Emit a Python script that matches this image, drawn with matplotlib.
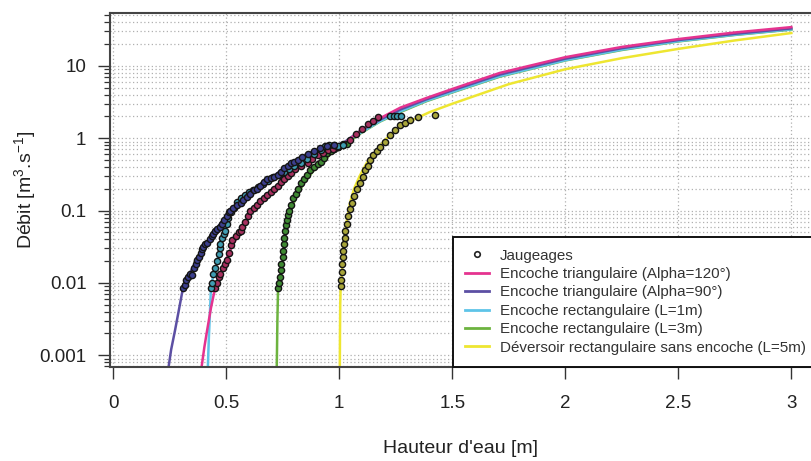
import matplotlib
matplotlib.use("Agg")
import matplotlib.pyplot as plt
from matplotlib.lines import Line2D
from matplotlib.ticker import LogLocator, FixedLocator, NullFormatter

plt.rcParams['font.family'] = ['Liberation Sans', 'DejaVu Sans']
plt.rcParams['mathtext.fontset'] = 'custom'
plt.rcParams['mathtext.rm'] = 'Liberation Sans'
plt.rcParams['mathtext.it'] = 'Liberation Sans:italic'
plt.rcParams['mathtext.bf'] = 'Liberation Sans:bold'

# ---------------- curves (rating curves) ----------------
tri120_h = [0.386, 0.391, 0.403, 0.415, 0.432, 0.45, 0.474, 0.516, 0.566, 0.616, 0.666, 0.716, 0.766,
            0.816, 0.866, 0.916, 0.966, 1.016, 1.096, 1.18, 1.27, 1.385, 1.50, 1.71, 2.0, 2.25, 2.5, 2.75, 3.0]
tri120_q = [0.0005, 0.0007, 0.0013, 0.0022, 0.0045, 0.0084, 0.014, 0.028, 0.055, 0.1, 0.15, 0.21, 0.29,
            0.38, 0.48, 0.6, 0.7, 0.82, 1.29, 1.89, 2.65, 3.6, 4.8, 8.0, 13.2, 18.3, 23.5, 29.0, 34.4]

tri90_h = [0.238, 0.256, 0.273, 0.29, 0.308, 0.345, 0.395, 0.445, 0.515, 0.565, 0.615, 0.665, 0.715,
           0.765, 0.815, 0.865, 0.915, 0.975, 1.015, 1.09, 1.18, 1.27, 1.385, 1.50, 1.71, 2.0, 2.25, 2.5, 2.75, 3.0]
tri90_q = [0.0005, 0.0012, 0.0022, 0.0042, 0.0084, 0.015, 0.03, 0.05, 0.1, 0.13, 0.18, 0.24, 0.31,
           0.41, 0.52, 0.63, 0.72, 0.8, 0.85, 1.25, 1.8, 2.5, 3.45, 4.6, 7.6, 12.6, 17.6, 22.8, 27.8, 33.0]

rect1_h = [0.417, 0.419, 0.423, 0.427, 0.432, 0.443, 0.46, 0.474, 0.496, 0.509, 0.532, 0.563, 0.62, 0.683,
           0.754, 0.829, 0.918, 0.976, 1.016, 1.096, 1.18, 1.27, 1.385, 1.50, 1.71, 2.0, 2.25, 2.5, 2.75, 3.0]
rect1_q = [0.0005, 0.0008, 0.0018, 0.0035, 0.0084, 0.0134, 0.02, 0.035, 0.053, 0.08, 0.11, 0.15, 0.19, 0.26,
           0.34, 0.45, 0.68, 0.8, 0.85, 1.2, 1.72, 2.35, 3.3, 4.35, 7.2, 12.0, 16.8, 22.0, 27.0, 32.0]

rect3_h = [0.7225, 0.724, 0.726, 0.729, 0.749, 0.763, 0.771, 0.807, 0.843, 0.887, 0.932, 0.963, 1.016,
           1.096, 1.18, 1.27, 1.385, 1.50, 1.71, 2.0, 2.25, 2.5, 2.75, 3.0]
rect3_q = [0.0005, 0.001, 0.003, 0.0084, 0.0185, 0.053, 0.073, 0.15, 0.238, 0.36, 0.47, 0.62, 0.78,
           1.18, 1.7, 2.3, 3.25, 4.3, 7.1, 11.9, 16.6, 21.8, 26.8, 31.8]

dev5_h = [1.002, 1.003, 1.004, 1.006, 1.012, 1.016, 1.025, 1.035, 1.047, 1.065, 1.09, 1.12, 1.15, 1.18,
          1.21, 1.25, 1.3, 1.4, 1.5, 1.75, 2.0, 2.25, 2.5, 2.75, 3.0]
dev5_q = [0.0005, 0.002, 0.005, 0.009, 0.014, 0.03, 0.05, 0.08, 0.126, 0.2, 0.3, 0.45, 0.6, 0.78,
          1.0, 1.3, 1.65, 2.3, 3.0, 5.6, 9.0, 12.8, 17.2, 22.5, 28.5]

# ---------------- gaugings (Jaugeages) ----------------
pts90_h = [0.308, 0.316, 0.321, 0.331, 0.340, 0.346, 0.356, 0.366, 0.372, 0.378, 0.386, 0.391, 0.398,
           0.406, 0.416, 0.426, 0.436, 0.443, 0.451, 0.461, 0.471, 0.483, 0.491, 0.501, 0.511, 0.518,
           0.531, 0.546, 0.563, 0.576, 0.591, 0.607, 0.621, 0.636, 0.651, 0.665, 0.681, 0.696, 0.711,
           0.727, 0.741, 0.756, 0.771, 0.785, 0.801, 0.816, 0.836, 0.860, 0.886, 0.916, 0.946, 0.976]
pts90_q = [0.0084, 0.0095, 0.011, 0.012, 0.0134, 0.013, 0.016, 0.018, 0.021, 0.023, 0.026, 0.029, 0.031,
           0.035, 0.036, 0.041, 0.045, 0.048, 0.052, 0.056, 0.060, 0.066, 0.075, 0.085, 0.095, 0.1,
           0.108, 0.118, 0.126, 0.14, 0.155, 0.17, 0.19, 0.2, 0.22, 0.25, 0.27, 0.28, 0.29,
           0.31, 0.34, 0.39, 0.42, 0.45, 0.47, 0.5, 0.55, 0.6, 0.66, 0.73, 0.77, 0.80]

pts120_h = [0.452, 0.461, 0.468, 0.474, 0.484, 0.494, 0.505, 0.513, 0.521, 0.527, 0.541, 0.554, 0.563,
            0.571, 0.581, 0.596, 0.607, 0.621, 0.636, 0.651, 0.665, 0.681, 0.696, 0.711, 0.727, 0.741,
            0.756, 0.771, 0.785, 0.806, 0.831, 0.86, 0.881, 0.905, 0.926, 0.951, 0.971, 0.994, 1.016,
            1.046, 1.076, 1.1, 1.125, 1.15, 1.17]
pts120_q = [0.0084, 0.010, 0.012, 0.0134, 0.016, 0.018, 0.0205, 0.026, 0.033, 0.039, 0.045, 0.05, 0.053,
            0.06, 0.07, 0.085, 0.1, 0.11, 0.12, 0.135, 0.15, 0.165, 0.18, 0.2, 0.22, 0.245,
            0.27, 0.3, 0.33, 0.37, 0.41, 0.45, 0.51, 0.58, 0.63, 0.68, 0.72, 0.75, 0.82,
            0.95, 1.15, 1.35, 1.55, 1.75, 1.95]

pts1_h = [0.432, 0.436, 0.443, 0.451, 0.46, 0.466, 0.471, 0.474, 0.481, 0.488, 0.496, 0.503, 0.509,
          0.521, 0.532, 0.546, 0.563, 0.581, 0.601, 0.62, 0.641, 0.661, 0.683, 0.706, 0.731, 0.754,
          0.776, 0.801, 0.829, 0.856, 0.886, 0.918, 0.936, 0.956, 0.976, 0.996, 1.016, 1.226, 1.241,
          1.256, 1.272]
pts1_q = [0.0084, 0.010, 0.0134, 0.016, 0.020, 0.025, 0.030, 0.035, 0.042, 0.048, 0.053, 0.065, 0.08,
          0.095, 0.11, 0.13, 0.15, 0.165, 0.18, 0.19, 0.21, 0.235, 0.26, 0.29, 0.31, 0.34,
          0.38, 0.41, 0.45, 0.52, 0.6, 0.68, 0.78, 0.80, 0.80, 0.78, 0.8, 2.05, 2.05,
          2.05, 2.05]

pts3_h = [0.729, 0.732, 0.736, 0.740, 0.744, 0.749, 0.752, 0.754, 0.757, 0.760, 0.763, 0.767, 0.771,
          0.778, 0.786, 0.796, 0.807, 0.816, 0.831, 0.843, 0.856, 0.871, 0.887, 0.906, 0.921, 0.932,
          0.946, 0.963, 0.976, 0.996, 1.016, 1.036]
pts3_q = [0.0084, 0.010, 0.012, 0.015, 0.0185, 0.023, 0.028, 0.034, 0.042, 0.053, 0.063, 0.073, 0.088,
          0.1, 0.12, 0.15, 0.17, 0.2, 0.238, 0.27, 0.31, 0.36, 0.40, 0.44, 0.47, 0.54,
          0.62, 0.66, 0.72, 0.75, 0.8, 0.82]

pts5_h = [1.006, 1.009, 1.012, 1.014, 1.016, 1.018, 1.020, 1.023, 1.027, 1.032, 1.039, 1.047, 1.055,
          1.066, 1.078, 1.09, 1.103, 1.114, 1.125, 1.136, 1.15, 1.165, 1.18, 1.2, 1.224, 1.246,
          1.268, 1.29, 1.313, 1.348, 1.423]
pts5_q = [0.009, 0.011, 0.014, 0.018, 0.023, 0.028, 0.034, 0.042, 0.052, 0.065, 0.085, 0.105, 0.126,
          0.16, 0.2, 0.24, 0.29, 0.36, 0.42, 0.5, 0.58, 0.66, 0.75, 0.9, 1.1, 1.3,
          1.51, 1.65, 1.78, 1.95, 2.08]

labels = ["Jaugeages",
          "Encoche triangulaire (Alpha=120°)",
          "Encoche triangulaire (Alpha=90°)",
          "Encoche rectangulaire (L=1m)",
          "Encoche rectangulaire (L=3m)",
          "Déversoir rectangulaire sans encoche (L=5m)"]
x_ticks = [0, 0.5, 1, 1.5, 2, 2.5, 3]
x_ticklabels = ["0", "0.5", "1", "1.5", "2", "2.5", "3"]
y_ticks = [0.001, 0.01, 0.1, 1, 10]
y_ticklabels = ["0.001", "0.01", "0.1", "1", "10"]

c120 = "#E5338F"
c90 = "#5C4FA3"
c1 = "#5EC4E8"
c3 = "#6DB33F"
c5 = "#EEE631"

fig = plt.figure(figsize=(8.11, 4.61), dpi=100)
ax = fig.add_axes([110 / 811, 1 - 366.7 / 461, 701 / 811, (366.7 - 13) / 461])

ax.set_yscale("log")
ax.set_xlim(-0.0146, 3.087)
ax.set_ylim(0.000695, 53.9)

lw = 1.8
ax.plot(rect3_h, rect3_q, color=c3, lw=lw, zorder=2)
ax.plot(dev5_h, dev5_q, color=c5, lw=lw, zorder=2.1)
ax.plot(rect1_h, rect1_q, color=c1, lw=lw, zorder=2.2)
ax.plot(tri90_h, tri90_q, color=c90, lw=lw, zorder=2.3)
ax.plot(tri120_h, tri120_q, color=c120, lw=lw, zorder=2.4)

ms = 20
ek = "#141414"
for hh, qq, fc in [(pts3_h, pts3_q, "#3F8A33"), (pts5_h, pts5_q, "#A9A63A"),
                   (pts120_h, pts120_q, "#A8305F"), (pts1_h, pts1_q, "#3F9DB2"),
                   (pts90_h, pts90_q, "#3C3F8E")]:
    ax.scatter(hh, qq, s=ms, facecolor=fc, edgecolor=ek, linewidth=1.0, zorder=3)

# grid
ax.yaxis.set_major_locator(FixedLocator(y_ticks))
ax.set_yticklabels(y_ticklabels)
ax.yaxis.set_minor_locator(LogLocator(base=10, subs=[2, 3, 4, 5, 6, 7, 8, 9], numticks=20))
ax.yaxis.set_minor_formatter(NullFormatter())
ax.set_xticks(x_ticks)
ax.set_xticklabels(x_ticklabels)
ax.grid(True, which="both", axis="y", color="#B0B0B0", linestyle=(0, (1, 2)), lw=0.9, zorder=0)
ax.grid(True, which="major", axis="x", color="#B0B0B0", linestyle=(0, (1, 2)), lw=0.9, zorder=0)

for s in ["left", "top", "bottom"]:
    ax.spines[s].set_color("#444444")
    ax.spines[s].set_linewidth(1.5)
ax.spines["right"].set_visible(False)

ax.tick_params(axis="both", which="major", direction="out", length=8.5, width=1.0,
               color="#333333", labelsize=13.5, labelcolor="#222222")
ax.tick_params(axis="x", which="major", pad=12)
ax.tick_params(axis="y", which="major", pad=8.5)
ax.tick_params(axis="y", which="minor", direction="out", length=4.5, width=0.9, color="#333333")

ax.set_xlabel("Hauteur d'eau [m]", fontsize=14, color="#222222", labelpad=20)
ax.set_ylabel("Débit [m$^{3}$.s$^{-1}$]", fontsize=14, color="#222222", labelpad=1)

handles = [Line2D([], [], linestyle="none", marker="o", markersize=4, markerfacecolor="none",
                  markeredgecolor="#222222", markeredgewidth=1.2),
           Line2D([], [], color=c120, lw=2),
           Line2D([], [], color=c90, lw=2),
           Line2D([], [], color=c1, lw=2),
           Line2D([], [], color=c3, lw=2),
           Line2D([], [], color=c5, lw=2)]
leg = ax.legend(handles, labels, loc="lower left", bbox_to_anchor=(0.489, 0.0),
                fontsize=10.9, frameon=True, fancybox=False, framealpha=1,
                edgecolor="#111111", borderpad=0.8, labelspacing=0.29,
                handlelength=1.6, handletextpad=0.7, borderaxespad=0)
leg.get_frame().set_linewidth(1.4)
for t in leg.get_texts():
    t.set_color("#333333")
leg.set_zorder(5)

fig.savefig("out.png", dpi=100)
